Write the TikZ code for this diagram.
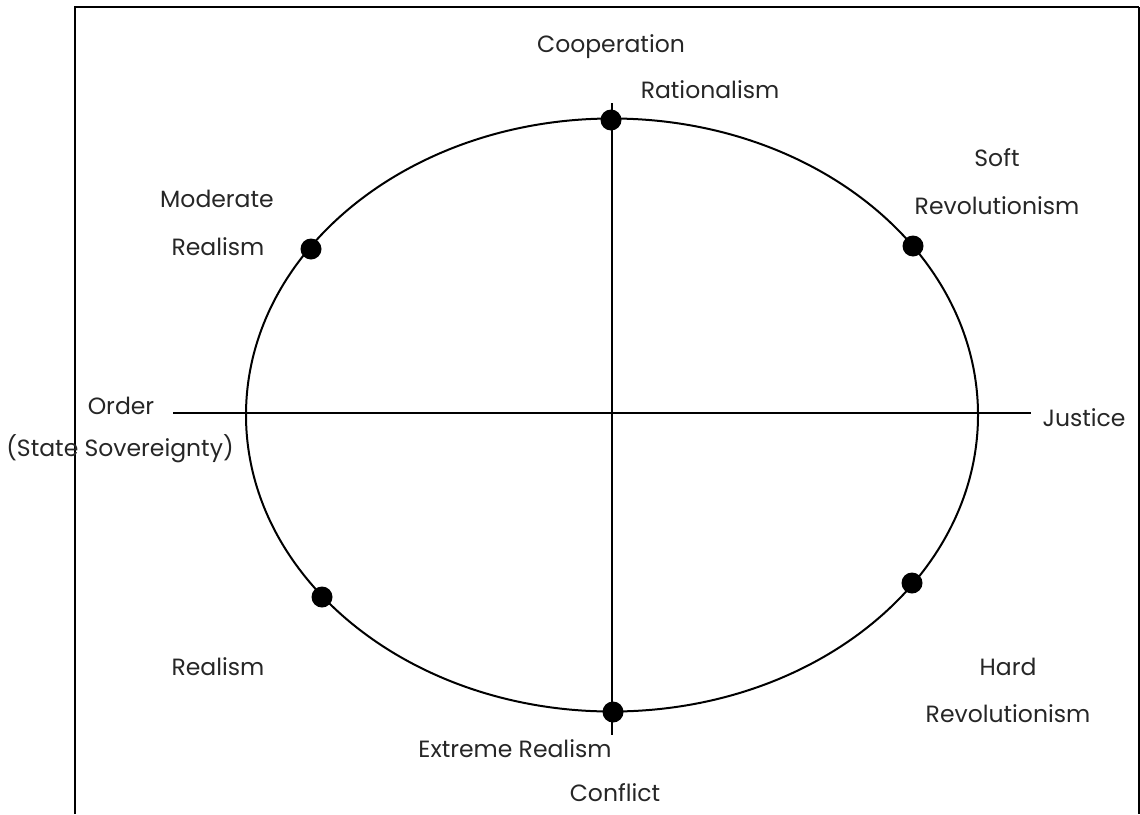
\documentclass[tikz,border=0pt]{standalone}
\usepackage{fontspec}
\setmainfont{Poppins}
\usetikzlibrary{positioning,shapes.geometric}
\tikzset{
  axis/.style={line width=2pt},
  orbit/.style={draw, ellipse, line width=2pt, minimum width=732pt,
               minimum height=593pt, inner sep=0pt},
  spot/.style={circle, fill=black, minimum size=21pt, inner sep=0pt},
  lbl/.style={font=\fontsize{23.5}{28}\selectfont, inner sep=0pt, text=black!85},
}

\begin{document}
\begin{tikzpicture}[x=1pt, y=-1pt]
  \useasboundingbox (0,0) rectangle (1140,814);

  % frame
  \draw[line width=2.5pt] (75,814) -- (75,7) -- (1139,7);
  \draw[line width=1.2pt] (1139,7) -- (1139,814);

  % axes and ellipse
  \node[orbit] (orbit) at (612,415) {};
  \coordinate (west) at (173,413);
  \coordinate (east) at (1031,413);
  \coordinate (north) at (612,103);
  \coordinate (south) at (612,735);
  \draw[axis] (west) -- (east);
  \draw[axis] (north) -- (south);

  % positions on the ellipse
  \node[spot] (rational) at (611,120) {};
  \node[spot] (modreal) at (311,249) {};
  \node[spot] (softrev) at (913,246) {};
  \node[spot] (hardrev) at (912,583) {};
  \node[spot] (realism) at (322,597) {};
  \node[spot] (extreme) at (613,712) {};

  % labels
  \node[lbl] (coop) at (611,47) {Cooperation};
  \node[lbl] (rationallbl) at (710,90) {Rationalism};
  \node[lbl] (modlbla) at (217,199) {Moderate};
  \node[lbl] (modlblb) at (218,247) {Realism};
  \node[lbl] (softlbla) at (997,158) {Soft};
  \node[lbl] (softlblb) at (997,206) {Revolutionism};
  \node[lbl] (orderlbl) at (121,406) {Order};
  \node[lbl] (statelbl) at (120,449) {(State Sovereignty)};
  \node[lbl] (justicelbl) at (1084,418) {Justice};
  \node[lbl] (reallbl) at (218,667) {Realism};
  \node[lbl] (hardlbla) at (1008,667) {Hard};
  \node[lbl] (hardlblb) at (1008,714) {Revolutionism};
  \node[lbl] (extremelbl) at (515,749) {Extreme Realism};
  \node[lbl] (conflictlbl) at (615,793) {Conflict};
\end{tikzpicture}
\end{document}
